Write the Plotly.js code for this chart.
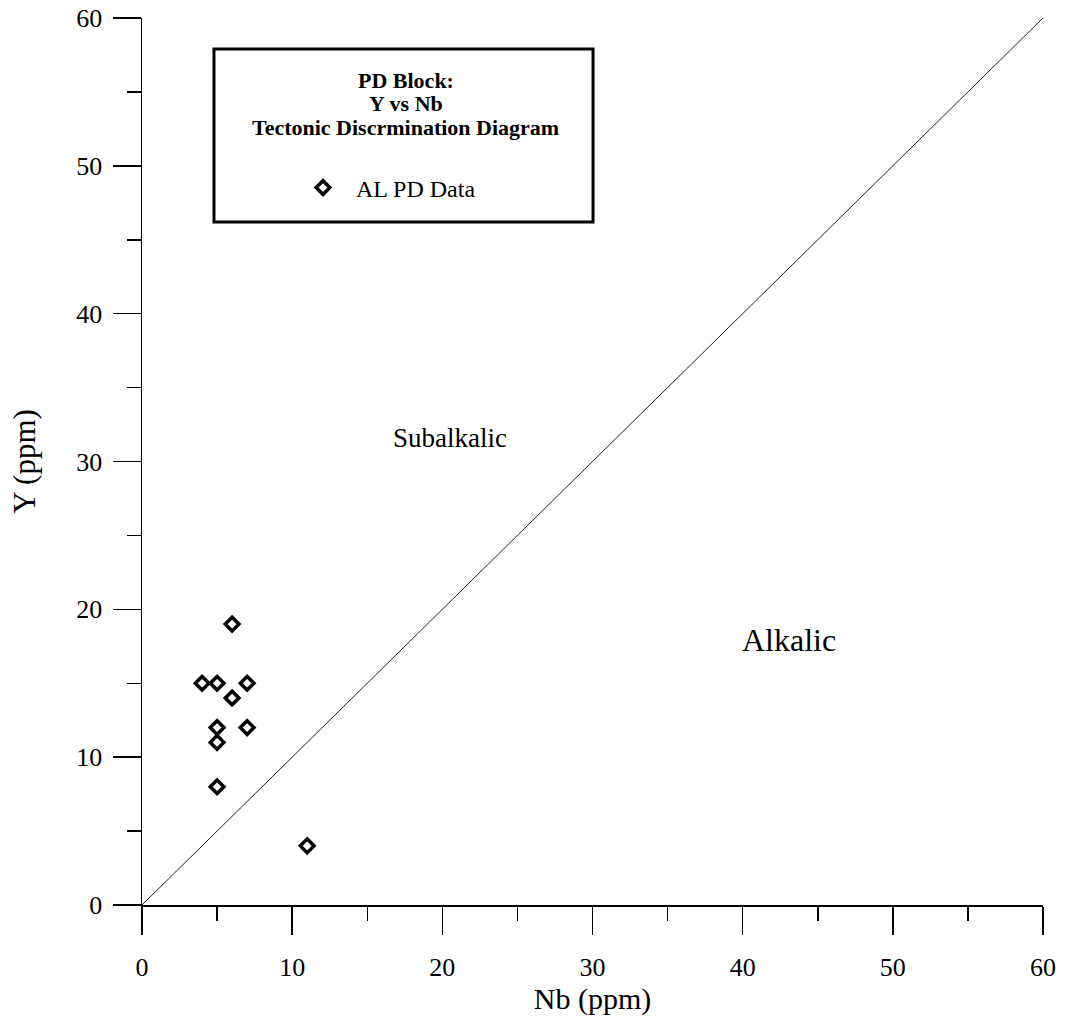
<!DOCTYPE html>
<html>
<head>
<meta charset="utf-8">
<script src="https://cdn.plot.ly/plotly-3.0.1.min.js"></script>
<style>html,body{margin:0;padding:0;background:#fff;}</style>
</head>
<body>
<div id="chart" style="width:1065px;height:1027px;"></div>
<script>
const seriesName = "AL PD Data";
const nbValues = [4, 5, 7, 6, 6, 5, 7, 5, 5, 11];
const yValues  = [15, 15, 15, 19, 14, 12, 12, 11, 8, 4];
const dividerX = [0, 60];
const dividerY = [0, 60];
const tickVals = [0, 10, 20, 30, 40, 50, 60];
const boxTitleLines = ["PD Block:", "Y vs Nb", "Tectonic Discrmination Diagram"];
const regionLabels = [
  {text: "Subalkalic", x: 20.5, y: 31.6, size: 27},
  {text: "Alkalic", x: 43.1, y: 17.9, size: 32}
];

const FONT = "Liberation Serif, Times New Roman, serif";

const traces = [
  {x: dividerX, y: dividerY, mode: "lines", line: {color: "#222", width: 1}, showlegend: false, hoverinfo: "skip"},
  {x: nbValues, y: yValues, mode: "markers", name: seriesName,
   marker: {symbol: "diamond-open", size: 10.5, color: "#000", line: {width: 3.5, color: "#000"}}}
];

const axisCommon = {
  range: [0, 60], tickvals: tickVals, ticks: "outside", ticklen: 28, tickwidth: 1.5, tickcolor: "#000",
  minor: {dtick: 5, ticks: "outside", ticklen: 14, tickwidth: 1.5, tickcolor: "#000", showgrid: false},
  showline: true, linecolor: "#000", linewidth: 1.5, showgrid: false, zeroline: false,
  tickfont: {family: FONT, size: 26, color: "#000"}, fixedrange: true
};

const titleY = [80, 104, 128];
const layout = {
  width: 1065, height: 1027,
  margin: {l: 142, r: 22, t: 18, b: 122},
  paper_bgcolor: "#fff", plot_bgcolor: "#fff",
  font: {family: FONT, color: "#000"},
  xaxis: Object.assign({}, axisCommon, {ticklabelstandoff: 10,
    title: {text: "Nb (ppm)", font: {family: FONT, size: 30}, standoff: 0}}),
  yaxis: Object.assign({}, axisCommon, {ticklabelstandoff: 5,
    title: {text: "Y (ppm)", font: {family: FONT, size: 31}, standoff: 31}}),
  showlegend: true,
  legend: {x: (290 - 142) / 901, y: (905 - 188) / 887, xanchor: "left", yanchor: "middle",
           bgcolor: "rgba(0,0,0,0)", borderwidth: 0, itemwidth: 56,
           font: {family: FONT, size: 24, color: "#000"}},
  shapes: [
    {type: "rect", xref: "paper", yref: "paper", x0: 0.0799, x1: 0.5006, y0: (905 - 222) / 887, y1: 0.965,
     line: {color: "#000", width: 3}, fillcolor: "#fff", layer: "below"}
  ],
  annotations: boxTitleLines.map((t, i) => ({xref: "paper", yref: "paper", x: 0.293, y: (905 - titleY[i]) / 887,
     xanchor: "center", yanchor: "middle", showarrow: false,
     text: "<b>" + t + "</b>", font: {family: FONT, size: 22, color: "#000"}}))
  .concat(regionLabels.map(r => ({x: r.x, y: r.y, text: r.text, showarrow: false, xanchor: "center", yanchor: "middle",
     font: {family: FONT, size: r.size, color: "#000"}})))
};

Plotly.newPlot("chart", traces, layout, {displayModeBar: false, staticPlot: true});
</script>
</body>
</html>
